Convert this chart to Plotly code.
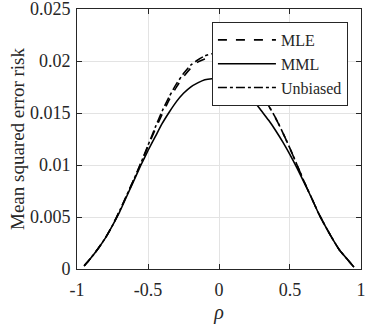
import plotly.graph_objects as go

rho = [-0.95, -0.9, -0.85, -0.8, -0.75, -0.7, -0.65, -0.6, -0.55, -0.5,
       -0.45, -0.4, -0.35, -0.3, -0.25, -0.2, -0.15, -0.1, -0.05, 0.0,
       0.05, 0.1, 0.15, 0.2, 0.25, 0.3, 0.35, 0.4, 0.45, 0.5,
       0.55, 0.6, 0.65, 0.7, 0.75, 0.8, 0.85, 0.9, 0.95]

mle = [0.0003, 0.0011, 0.0020, 0.0030, 0.0042, 0.0056, 0.0071, 0.0086, 0.0102, 0.0118,
       0.0134, 0.0149, 0.0163, 0.0175, 0.0185, 0.0193, 0.0199, 0.0202, 0.0204, 0.0204,
       0.0202, 0.0198, 0.0192, 0.0185, 0.0177, 0.0168, 0.0157, 0.0145, 0.0131, 0.0116,
       0.0100, 0.0084, 0.0069, 0.0054, 0.0041, 0.0029, 0.0018, 0.0010, 0.0002]

mml = [0.0003, 0.0011, 0.0020, 0.0030, 0.0042, 0.0055, 0.0070, 0.0085, 0.0100, 0.0114,
       0.0127, 0.0140, 0.0151, 0.0161, 0.0169, 0.0175, 0.0179, 0.0182, 0.0183, 0.0183,
       0.0182, 0.0179, 0.0175, 0.0169, 0.0161, 0.0152, 0.0143, 0.0133, 0.0122, 0.0110,
       0.0097, 0.0083, 0.0069, 0.0054, 0.0041, 0.0029, 0.0018, 0.0010, 0.0002]

unbiased = [0.0003, 0.0011, 0.0020, 0.0030, 0.0042, 0.0056, 0.0071, 0.0086, 0.0102, 0.0119,
            0.0136, 0.0152, 0.0166, 0.0178, 0.0188, 0.0196, 0.0201, 0.0205, 0.0207, 0.0207,
            0.0205, 0.0200, 0.0194, 0.0186, 0.0178, 0.0168, 0.0157, 0.0145, 0.0131, 0.0116,
            0.0100, 0.0084, 0.0069, 0.0054, 0.0041, 0.0029, 0.0018, 0.0010, 0.0002]

xticks = [-1, -0.5, 0, 0.5, 1]
xlabels = ["-1", "-0.5", "0", "0.5", "1"]
yticks = [0, 0.005, 0.01, 0.015, 0.02, 0.025]
ylabels = ["0", "0.005", "0.01", "0.015", "0.02", "0.025"]

font = "Liberation Serif"
ink = "#262626"

fig = go.Figure()
fig.add_trace(go.Scatter(x=rho, y=mle, mode="lines", name="MLE",
                         line=dict(color="black", width=1.6, dash="dash", shape="spline", smoothing=0.6)))
fig.add_trace(go.Scatter(x=rho, y=mml, mode="lines", name="MML",
                         line=dict(color="black", width=1.6, shape="spline", smoothing=0.6)))
fig.add_trace(go.Scatter(x=rho, y=unbiased, mode="lines", name="Unbiased",
                         line=dict(color="black", width=1.6, dash="dashdot", shape="spline", smoothing=0.6)))

axis_common = dict(showline=True, linecolor=ink, linewidth=1, mirror="ticks",
                   ticks="inside", ticklen=5, tickcolor=ink, automargin=False,
                   ticklabeloverflow="allow",
                   showgrid=True, gridcolor="#e3e3e3", zeroline=False,
                   tickfont=dict(family=font, size=18, color=ink))

fig.update_xaxes(range=[-1.0005, 1.0005], tickvals=xticks, ticktext=xlabels,
                 ticklabelstandoff=4,
                 title=dict(text="<i>ρ</i>", font=dict(family=font, size=20, color=ink),
                            standoff=6),
                 **axis_common)
fig.update_yaxes(range=[0, 0.02501], tickvals=yticks, ticktext=ylabels,
                 ticklabelstandoff=2,
                 title=dict(text="Mean squared error risk",
                            font=dict(family=font, size=19, color=ink), standoff=0),
                 **axis_common)

fig.update_layout(
    width=367, height=327,
    margin=dict(l=77, r=6, t=9, b=58),
    paper_bgcolor="white", plot_bgcolor="white",
    font=dict(family=font, color=ink),
    legend=dict(x=0.954, y=0.95, xanchor="right", yanchor="top",
                bgcolor="white", bordercolor=ink, borderwidth=1,
                font=dict(family=font, size=16, color=ink),
                tracegroupgap=0, itemwidth=58),
)

# the page body keeps its default 8px margin otherwise
fig.write_html("out.html", config={"displayModeBar": False},
               post_script="document.body.style.margin='0';")
